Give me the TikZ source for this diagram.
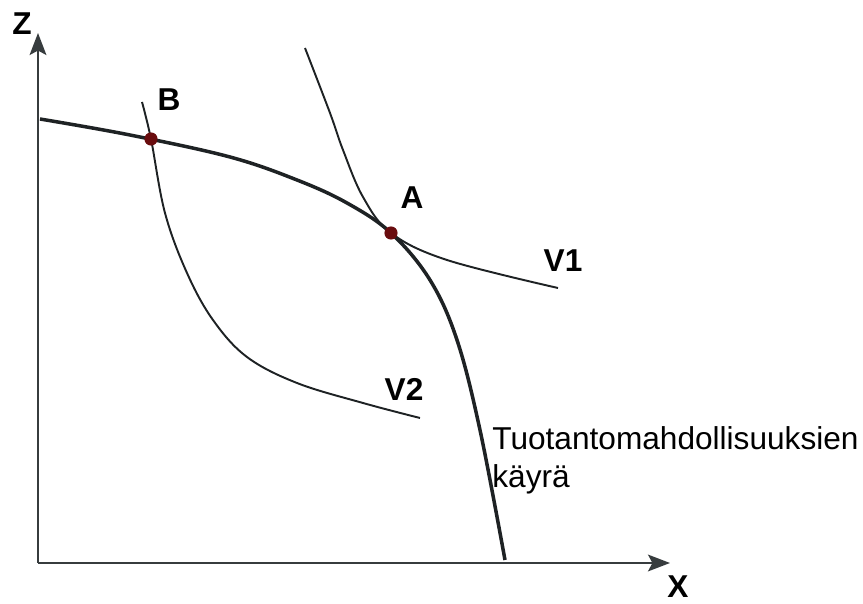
\documentclass[tikz,border=0pt]{standalone}
\usepackage{fontspec}
\setmainfont{Liberation Sans}
\usepackage{xcolor}
\usetikzlibrary{arrows.meta, positioning}
\definecolor{CurveGray}{RGB}{30,34,36}
\definecolor{AxisGray}{RGB}{55,60,62}
\definecolor{DotRed}{RGB}{105,12,14}

\begin{document}
\begin{tikzpicture}[
  x=0.02cm, y=-0.02cm,
  axis/.style={draw=AxisGray, line width=1.3pt,
               -{Stealth[length=12.5pt, width=9.5pt, inset=2.5pt]}},
  frontier/.style={draw=CurveGray, line width=2pt},
  indiff/.style={draw=CurveGray, line width=1.1pt},
  dot/.style={circle, fill=DotRed, inner sep=0pt, minimum size=7.5pt},
  lbl/.style={font=\fontsize{18}{21}\selectfont\bfseries, inner sep=0pt},
  desc/.style={font=\fontsize{18}{21.5}\selectfont, align=left,
               inner sep=0pt, anchor=north west},
]
\useasboundingbox (0,0) rectangle (863,604);

% axes
\coordinate (O) at (38,563);
\coordinate (zend) at (38,33);
\coordinate (xend) at (670,563);
\draw[axis] (O) -- (zend);
\draw[axis] (O) -- (xend);
\node[lbl] (zlab) at (22,24) {Z};
\node[lbl] (xlab) at (678,587) {X};

% indifference curves
\draw[indiff] plot[smooth, tension=0.6] coordinates
  {(305,48) (330,113) (343,150) (363,197) (391,233) (447,260) (558,288)};
\draw[indiff] plot[smooth, tension=0.6] coordinates
  {(142,102) (151,139) (165,213) (187,273) (213,320) (247,357)
   (297,383) (363,403) (420,418)};

% production possibility frontier
\draw[frontier] plot[smooth, tension=0.6] coordinates
  {(40,119) (130,135) (230,157) (297,180) (347,203) (391,233)
   (430,280) (457,340) (480,430) (505,560)};

% points
\node[dot] (ptA) at (391,233) {};
\node[dot] (ptB) at (151,139) {};
\node[lbl] (alab) at (412,198) {A};
\node[lbl] (blab) at (169,100) {B};
\node[lbl] (v1lab) at (563,261) {V1};
\node[lbl] (v2lab) at (404,389) {V2};
\node[desc] (pplab) at (492,426) {Tuotantomahdollisuuksien\\käyrä};
\end{tikzpicture}
\end{document}
